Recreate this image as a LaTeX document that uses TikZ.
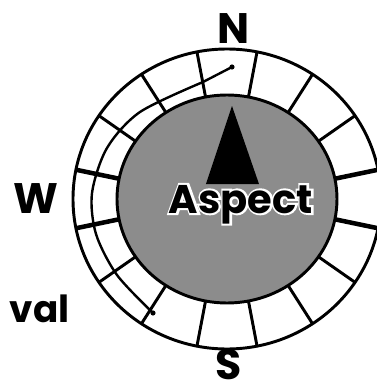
\documentclass[tikz,border=0pt]{standalone}
\usepackage{fontspec}
\newfontfamily\geofont{Poppins}
% white outline drawn as a stroke of the glyphs
\newcommand\halo[1]{\special{pdf:literal direct q 1 Tr 3 w 1 1 1 RG}#1\special{pdf:literal direct Q}}

\begin{document}
\begin{tikzpicture}[x=0.75pt,y=0.75pt,
  dial/.style={line width=2.2pt},
  letter/.style={font=\geofont\bfseries\fontsize{32}{32}\selectfont,inner sep=0pt,anchor=base}]
\useasboundingbox (-227,-187) rectangle (150,199);

% rose: white ring round the shaded disc
\filldraw[fill=white,dial] (0,0) ellipse [x radius=154,y radius=150];
\filldraw[fill=black!45,dial] (0,0) ellipse [x radius=110,y radius=104];

% sector boundaries every 22.5 degrees, E and W ones heavier
\foreach \a in {33.75,56.25,78.75,101.25,123.75,146.25,213.75,236.25,258.75,281.25,303.75,326.25}
  \draw[dial] ({110*cos(\a)},{104*sin(\a)}) -- ({154*cos(\a)},{150*sin(\a)});
\foreach \a in {11.25,168.75,191.25,348.75}
  \draw[line width=3.4pt] ({110*cos(\a)},{104*sin(\a)}) -- ({154*cos(\a)},{150*sin(\a)});

% interval curve on the west side
\draw[line width=1.8pt] (5,132) -- (-24,117) -- plot[smooth] coordinates
  {(-24,117) (-87,87) (-120,51) (-135,6) (-131,-35) (-110,-76) (-74,-114)};
\fill (5,132) circle (2.6);
\fill (-74,-114) circle (2.6);

% pointer
\fill (5,93) -- (-21,15) -- (32,15) -- cycle;

\node[letter,font=\geofont\bfseries\fontsize{30}{30}\selectfont] (aspect) at (14,-14)
  {\halo{Aspect}\llap{Aspect}};

\node[letter] (north) at (7,156) {N};
\node[letter] (west) at (-191,-14) {W};
\node[letter] (south) at (2,-180) {S};
\node[letter,anchor=base east,font=\geofont\bfseries\fontsize{28}{28}\selectfont] (interval) at (-157,-123) {val};
\end{tikzpicture}
\end{document}
